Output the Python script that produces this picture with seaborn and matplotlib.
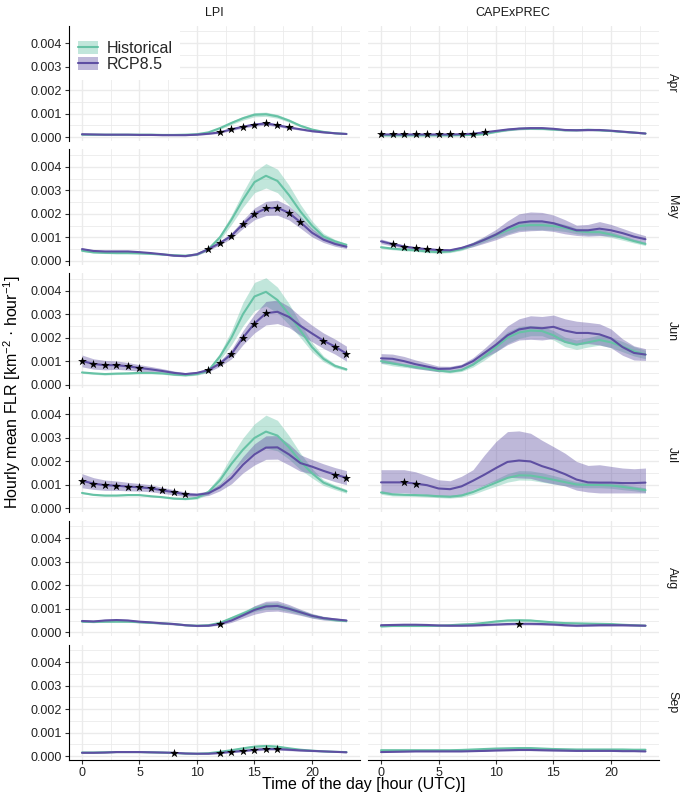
import numpy as np
import pandas as pd
import matplotlib.pyplot as plt
import seaborn as sns
from matplotlib.patches import Patch, Rectangle
from matplotlib.lines import Line2D

HOURS = list(range(24))
MONTHS = ['Apr', 'May', 'Jun', 'Jul', 'Aug', 'Sep']
INDICES = ['LPI', 'CAPExPREC']
SCENARIOS = ['Historical', 'RCP8.5']
COLORS = {'Historical': '#66C2A5', 'RCP8.5': '#5E4FA2'}

# all values in 1e-3 km^-2 hour^-1 (mean and half-width of the band)
# ---- LPI ----
LPI_APR_HIST = [0.10, 0.10, 0.10, 0.10, 0.10, 0.10, 0.10, 0.09, 0.09, 0.10, 0.12, 0.20, 0.38, 0.60, 0.80, 0.95, 0.97, 0.88, 0.70, 0.48, 0.32, 0.22, 0.16, 0.13]
LPI_APR_HIST_ERR = [0.02, 0.02, 0.02, 0.02, 0.02, 0.02, 0.02, 0.02, 0.02, 0.02, 0.02, 0.03, 0.05, 0.07, 0.08, 0.09, 0.09, 0.08, 0.07, 0.05, 0.04, 0.03, 0.02, 0.02]
LPI_APR_RCP = [0.12, 0.11, 0.10, 0.10, 0.10, 0.09, 0.09, 0.08, 0.08, 0.08, 0.10, 0.14, 0.20, 0.33, 0.44, 0.53, 0.58, 0.50, 0.41, 0.33, 0.25, 0.20, 0.16, 0.13]
LPI_APR_RCP_ERR = [0.02, 0.02, 0.02, 0.02, 0.02, 0.02, 0.02, 0.02, 0.02, 0.02, 0.02, 0.03, 0.04, 0.05, 0.06, 0.07, 0.07, 0.06, 0.05, 0.04, 0.03, 0.03, 0.02, 0.02]
LPI_APR_SIG = [12, 13, 14, 15, 16, 17, 18]

LPI_MAY_HIST = [0.43, 0.36, 0.34, 0.33, 0.33, 0.32, 0.30, 0.27, 0.24, 0.22, 0.27, 0.50, 1.00, 1.75, 2.60, 3.35, 3.62, 3.40, 2.80, 2.10, 1.50, 1.04, 0.83, 0.68]
LPI_MAY_HIST_ERR = [0.03, 0.03, 0.03, 0.03, 0.03, 0.03, 0.03, 0.03, 0.03, 0.03, 0.04, 0.06, 0.12, 0.20, 0.32, 0.45, 0.52, 0.50, 0.42, 0.30, 0.20, 0.13, 0.08, 0.06]
LPI_MAY_RCP = [0.50, 0.42, 0.40, 0.40, 0.40, 0.37, 0.33, 0.28, 0.22, 0.20, 0.28, 0.50, 0.76, 1.07, 1.56, 2.00, 2.23, 2.26, 2.04, 1.64, 1.20, 0.90, 0.72, 0.60]
LPI_MAY_RCP_ERR = [0.05, 0.04, 0.04, 0.04, 0.04, 0.04, 0.03, 0.03, 0.03, 0.03, 0.04, 0.06, 0.08, 0.12, 0.18, 0.25, 0.30, 0.32, 0.30, 0.25, 0.18, 0.12, 0.10, 0.08]
LPI_MAY_SIG = [11, 12, 13, 14, 15, 16, 17, 18, 19]

LPI_JUN_HIST = [0.52, 0.48, 0.45, 0.47, 0.48, 0.50, 0.50, 0.48, 0.43, 0.40, 0.45, 0.60, 1.20, 2.00, 3.00, 3.75, 3.95, 3.60, 3.00, 2.30, 1.60, 1.10, 0.80, 0.65]
LPI_JUN_HIST_ERR = [0.04, 0.04, 0.04, 0.04, 0.04, 0.04, 0.04, 0.04, 0.04, 0.04, 0.05, 0.08, 0.15, 0.30, 0.50, 0.60, 0.60, 0.55, 0.45, 0.30, 0.20, 0.12, 0.08, 0.06]
LPI_JUN_RCP = [1.01, 0.88, 0.83, 0.83, 0.78, 0.71, 0.65, 0.58, 0.50, 0.45, 0.50, 0.62, 0.90, 1.30, 2.00, 2.60, 3.04, 3.10, 2.88, 2.50, 2.18, 1.87, 1.62, 1.32]
LPI_JUN_RCP_ERR = [0.25, 0.22, 0.20, 0.18, 0.16, 0.14, 0.12, 0.10, 0.08, 0.06, 0.06, 0.08, 0.12, 0.20, 0.30, 0.40, 0.50, 0.50, 0.45, 0.40, 0.35, 0.33, 0.32, 0.32]
LPI_JUN_SIG = [0, 1, 2, 3, 4, 5, 11, 12, 13, 14, 15, 16, 21, 22, 23]

LPI_JUL_HIST = [0.66, 0.58, 0.55, 0.55, 0.57, 0.57, 0.52, 0.48, 0.42, 0.40, 0.45, 0.70, 1.20, 1.90, 2.50, 3.00, 3.27, 3.10, 2.60, 2.00, 1.50, 1.10, 0.90, 0.73]
LPI_JUL_HIST_ERR = [0.03, 0.03, 0.03, 0.03, 0.03, 0.03, 0.03, 0.03, 0.03, 0.03, 0.05, 0.10, 0.20, 0.35, 0.50, 0.60, 0.70, 0.65, 0.50, 0.35, 0.20, 0.12, 0.10, 0.08]
LPI_JUL_RCP = [1.18, 1.06, 0.99, 0.97, 0.93, 0.90, 0.86, 0.77, 0.69, 0.60, 0.58, 0.65, 0.90, 1.30, 1.86, 2.30, 2.59, 2.60, 2.30, 1.93, 1.78, 1.60, 1.44, 1.31]
LPI_JUL_RCP_ERR = [0.30, 0.25, 0.22, 0.20, 0.18, 0.16, 0.15, 0.13, 0.11, 0.10, 0.08, 0.10, 0.15, 0.25, 0.35, 0.45, 0.50, 0.50, 0.45, 0.35, 0.30, 0.30, 0.30, 0.30]
LPI_JUL_SIG = [0, 1, 2, 3, 4, 5, 6, 7, 8, 9, 22, 23]

LPI_AUG_HIST = [0.45, 0.44, 0.45, 0.45, 0.45, 0.43, 0.40, 0.38, 0.35, 0.30, 0.28, 0.30, 0.40, 0.60, 0.80, 1.00, 1.12, 1.12, 1.00, 0.85, 0.70, 0.60, 0.52, 0.48]
LPI_AUG_HIST_ERR = [0.03, 0.03, 0.03, 0.03, 0.03, 0.03, 0.03, 0.03, 0.03, 0.03, 0.03, 0.04, 0.06, 0.08, 0.10, 0.12, 0.14, 0.14, 0.12, 0.10, 0.08, 0.06, 0.05, 0.04]
LPI_AUG_RCP = [0.48, 0.46, 0.50, 0.52, 0.50, 0.45, 0.42, 0.38, 0.35, 0.30, 0.27, 0.28, 0.35, 0.50, 0.72, 0.95, 1.10, 1.12, 1.00, 0.85, 0.70, 0.60, 0.55, 0.50]
LPI_AUG_RCP_ERR = [0.05, 0.05, 0.06, 0.06, 0.05, 0.05, 0.04, 0.04, 0.04, 0.03, 0.03, 0.03, 0.05, 0.08, 0.12, 0.18, 0.22, 0.22, 0.18, 0.13, 0.10, 0.08, 0.06, 0.05]
LPI_AUG_SIG = [12]

LPI_SEP_HIST = [0.15, 0.15, 0.16, 0.17, 0.17, 0.17, 0.16, 0.15, 0.13, 0.11, 0.10, 0.12, 0.18, 0.25, 0.33, 0.40, 0.43, 0.40, 0.33, 0.27, 0.23, 0.20, 0.18, 0.17]
LPI_SEP_HIST_ERR = [0.02, 0.02, 0.02, 0.02, 0.02, 0.02, 0.02, 0.02, 0.02, 0.02, 0.02, 0.02, 0.03, 0.04, 0.05, 0.06, 0.06, 0.05, 0.04, 0.03, 0.03, 0.02, 0.02, 0.02]
LPI_SEP_RCP = [0.14, 0.14, 0.15, 0.17, 0.17, 0.17, 0.16, 0.15, 0.14, 0.11, 0.10, 0.10, 0.13, 0.18, 0.22, 0.27, 0.30, 0.30, 0.27, 0.24, 0.22, 0.20, 0.18, 0.16]
LPI_SEP_RCP_ERR = [0.02, 0.02, 0.02, 0.02, 0.02, 0.02, 0.02, 0.02, 0.02, 0.02, 0.02, 0.02, 0.02, 0.03, 0.04, 0.05, 0.05, 0.05, 0.04, 0.03, 0.03, 0.02, 0.02, 0.02]
LPI_SEP_SIG = [8, 12, 13, 14, 15, 16, 17]

# ---- CAPExPREC ----
CAPE_APR_HIST = [0.07, 0.07, 0.07, 0.07, 0.07, 0.07, 0.07, 0.08, 0.09, 0.13, 0.22, 0.30, 0.35, 0.36, 0.35, 0.32, 0.29, 0.29, 0.31, 0.29, 0.26, 0.22, 0.19, 0.15]
CAPE_APR_HIST_ERR = [0.02, 0.02, 0.02, 0.02, 0.02, 0.02, 0.02, 0.02, 0.02, 0.03, 0.03, 0.04, 0.04, 0.04, 0.04, 0.04, 0.03, 0.03, 0.03, 0.03, 0.03, 0.03, 0.02, 0.02]
CAPE_APR_RCP = [0.11, 0.11, 0.11, 0.11, 0.11, 0.11, 0.11, 0.12, 0.14, 0.20, 0.26, 0.32, 0.36, 0.38, 0.38, 0.35, 0.30, 0.29, 0.30, 0.30, 0.27, 0.23, 0.19, 0.15]
CAPE_APR_RCP_ERR = [0.02, 0.02, 0.02, 0.02, 0.02, 0.02, 0.02, 0.02, 0.02, 0.03, 0.04, 0.05, 0.05, 0.05, 0.05, 0.04, 0.04, 0.04, 0.04, 0.04, 0.03, 0.03, 0.03, 0.02]
CAPE_APR_SIG = [0, 1, 2, 3, 4, 5, 6, 7, 8, 9]

CAPE_MAY_HIST = [0.58, 0.52, 0.48, 0.45, 0.40, 0.37, 0.40, 0.50, 0.70, 0.90, 1.10, 1.30, 1.48, 1.52, 1.52, 1.48, 1.40, 1.27, 1.22, 1.22, 1.12, 0.98, 0.84, 0.72]
CAPE_MAY_HIST_ERR = [0.05, 0.05, 0.05, 0.05, 0.05, 0.05, 0.05, 0.06, 0.08, 0.10, 0.12, 0.15, 0.18, 0.20, 0.20, 0.18, 0.15, 0.12, 0.12, 0.12, 0.12, 0.10, 0.08, 0.07]
CAPE_MAY_RCP = [0.83, 0.71, 0.61, 0.54, 0.50, 0.46, 0.45, 0.55, 0.70, 0.90, 1.12, 1.40, 1.62, 1.68, 1.68, 1.60, 1.45, 1.30, 1.30, 1.37, 1.30, 1.18, 1.03, 0.92]
CAPE_MAY_RCP_ERR = [0.10, 0.08, 0.07, 0.06, 0.05, 0.05, 0.05, 0.06, 0.10, 0.15, 0.22, 0.30, 0.38, 0.40, 0.38, 0.35, 0.30, 0.22, 0.25, 0.30, 0.25, 0.20, 0.18, 0.15]
CAPE_MAY_SIG = [1, 2, 3, 4, 5]

CAPE_JUN_HIST = [1.00, 0.90, 0.82, 0.75, 0.68, 0.60, 0.55, 0.62, 0.85, 1.20, 1.60, 2.00, 2.22, 2.30, 2.28, 2.10, 1.82, 1.70, 1.80, 1.90, 1.80, 1.62, 1.42, 1.28]
CAPE_JUN_HIST_ERR = [0.10, 0.10, 0.08, 0.07, 0.06, 0.05, 0.05, 0.06, 0.10, 0.15, 0.20, 0.25, 0.25, 0.22, 0.20, 0.20, 0.20, 0.20, 0.20, 0.22, 0.22, 0.22, 0.20, 0.18]
CAPE_JUN_RCP = [1.12, 1.10, 1.00, 0.87, 0.77, 0.67, 0.68, 0.77, 1.00, 1.35, 1.70, 2.10, 2.35, 2.43, 2.40, 2.46, 2.30, 2.20, 2.20, 2.14, 1.97, 1.60, 1.35, 1.28]
CAPE_JUN_RCP_ERR = [0.20, 0.20, 0.20, 0.18, 0.15, 0.12, 0.10, 0.10, 0.15, 0.20, 0.30, 0.40, 0.45, 0.50, 0.50, 0.50, 0.50, 0.50, 0.45, 0.45, 0.40, 0.35, 0.30, 0.25]
CAPE_JUN_SIG = []

CAPE_JUL_HIST = [0.68, 0.60, 0.58, 0.57, 0.55, 0.52, 0.50, 0.55, 0.70, 0.90, 1.10, 1.30, 1.41, 1.40, 1.32, 1.22, 1.12, 1.02, 1.00, 1.00, 0.98, 0.92, 0.85, 0.78]
CAPE_JUL_HIST_ERR = [0.08, 0.07, 0.06, 0.06, 0.06, 0.06, 0.06, 0.07, 0.10, 0.12, 0.15, 0.18, 0.20, 0.20, 0.20, 0.18, 0.15, 0.12, 0.12, 0.12, 0.12, 0.12, 0.10, 0.10]
CAPE_JUL_RCP = [1.11, 1.11, 1.11, 1.06, 0.99, 0.85, 0.82, 0.94, 1.18, 1.44, 1.72, 1.98, 2.04, 2.00, 1.80, 1.65, 1.46, 1.23, 1.11, 1.10, 1.10, 1.08, 1.08, 1.10]
CAPE_JUL_RCP_ERR = [0.45, 0.45, 0.45, 0.43, 0.40, 0.33, 0.32, 0.35, 0.38, 0.45, 0.55, 0.65, 0.74, 0.72, 0.65, 0.60, 0.50, 0.45, 0.41, 0.44, 0.44, 0.42, 0.42, 0.44]
CAPE_JUL_RCP_ERR_UP = [0.54, 0.54, 0.54, 0.50, 0.40, 0.37, 0.36, 0.43, 0.47, 0.84, 1.13, 1.29, 1.26, 1.20, 1.10, 0.98, 0.89, 0.77, 0.72, 0.76, 0.69, 0.64, 0.61, 0.62]
CAPE_JUL_SIG = [2, 3]

CAPE_AUG_HIST = [0.25, 0.27, 0.27, 0.27, 0.27, 0.28, 0.30, 0.33, 0.35, 0.40, 0.46, 0.50, 0.51, 0.50, 0.46, 0.42, 0.39, 0.38, 0.37, 0.36, 0.35, 0.32, 0.30, 0.28]
CAPE_AUG_HIST_ERR = [0.03, 0.03, 0.03, 0.03, 0.03, 0.03, 0.03, 0.03, 0.03, 0.04, 0.05, 0.06, 0.06, 0.06, 0.05, 0.05, 0.04, 0.04, 0.04, 0.04, 0.04, 0.03, 0.03, 0.03]
CAPE_AUG_RCP = [0.30, 0.31, 0.32, 0.32, 0.31, 0.29, 0.28, 0.28, 0.29, 0.31, 0.33, 0.35, 0.36, 0.36, 0.35, 0.33, 0.30, 0.28, 0.29, 0.30, 0.30, 0.30, 0.29, 0.28]
CAPE_AUG_RCP_ERR = [0.04, 0.05, 0.05, 0.05, 0.04, 0.04, 0.03, 0.03, 0.03, 0.04, 0.04, 0.05, 0.05, 0.05, 0.05, 0.04, 0.04, 0.04, 0.04, 0.04, 0.04, 0.04, 0.03, 0.03]
CAPE_AUG_SIG = [12]

CAPE_SEP_HIST = [0.25, 0.25, 0.25, 0.25, 0.25, 0.25, 0.25, 0.26, 0.28, 0.30, 0.32, 0.33, 0.34, 0.34, 0.32, 0.30, 0.29, 0.28, 0.28, 0.28, 0.28, 0.28, 0.27, 0.27]
CAPE_SEP_HIST_ERR = [0.03, 0.03, 0.03, 0.03, 0.03, 0.03, 0.03, 0.03, 0.03, 0.03, 0.04, 0.04, 0.04, 0.04, 0.04, 0.04, 0.03, 0.03, 0.03, 0.03, 0.03, 0.03, 0.03, 0.03]
CAPE_SEP_RCP = [0.17, 0.18, 0.19, 0.20, 0.20, 0.20, 0.20, 0.20, 0.21, 0.22, 0.24, 0.25, 0.26, 0.26, 0.25, 0.24, 0.23, 0.22, 0.22, 0.22, 0.22, 0.21, 0.21, 0.20]
CAPE_SEP_RCP_ERR = [0.02, 0.02, 0.02, 0.02, 0.02, 0.02, 0.02, 0.02, 0.02, 0.02, 0.03, 0.03, 0.03, 0.03, 0.03, 0.03, 0.02, 0.02, 0.02, 0.02, 0.02, 0.02, 0.02, 0.02]
CAPE_SEP_SIG = []

# build a long table from the arrays above
g = globals()
rows = []
for idx, pre in zip(INDICES, ['LPI', 'CAPE']):
    for m in MONTHS:
        base = f'{pre}_{m.upper()}'
        sig = g[f'{base}_SIG']
        for scen, tag in zip(SCENARIOS, ['HIST', 'RCP']):
            mean = g[f'{base}_{tag}']
            lo = g[f'{base}_{tag}_ERR']
            hi = g.get(f'{base}_{tag}_ERR_UP', lo)
            for h in HOURS:
                rows.append({'index': idx, 'month': m, 'scenario': scen, 'hour': h,
                             'value': mean[h] * 1e-3,
                             'lo': (mean[h] - lo[h]) * 1e-3,
                             'hi': (mean[h] + hi[h]) * 1e-3,
                             'sig': scen == 'RCP8.5' and h in sig})
df = pd.DataFrame(rows)

sns.set_theme(style='white')
plt.rcParams['font.family'] = ['Liberation Sans', 'DejaVu Sans']
plt.rcParams['mathtext.default'] = 'regular'

fig, axes = plt.subplots(6, 2, figsize=(6.85, 8.01), dpi=100, sharex=True, sharey=True)
fig.subplots_adjust(left=0.1004, right=0.9616, top=0.968, bottom=0.0514,
                    wspace=0.028, hspace=0.075)

for r, m in enumerate(MONTHS):
    for c, idx in enumerate(INDICES):
        ax = axes[r, c]
        sub = df[(df['month'] == m) & (df['index'] == idx)]
        for scen in SCENARIOS:
            s = sub[sub['scenario'] == scen]
            ax.fill_between(s['hour'], s['lo'], s['hi'], color=COLORS[scen],
                            alpha=0.4, linewidth=0, zorder=1)
        sns.lineplot(data=sub, x='hour', y='value', hue='scenario', palette=COLORS,
                     hue_order=SCENARIOS, estimator=None, linewidth=1.5,
                     legend=False, ax=ax, zorder=2)
        stars = sub[sub['sig']]
        if len(stars):
            sns.scatterplot(data=stars, x='hour', y='value', marker='*', color='black',
                            s=45, linewidth=0, legend=False, ax=ax, zorder=3)

        ax.set_xlim(-1.15, 24.15)
        ax.set_ylim(-0.00016, 0.00474)
        ax.set_xticks([0, 5, 10, 15, 20])
        ax.set_xticks([2.5, 7.5, 12.5, 17.5, 22.5], minor=True)
        ax.set_yticks([0, 0.001, 0.002, 0.003, 0.004])
        ax.set_yticks([0.0005, 0.0015, 0.0025, 0.0035, 0.0045], minor=True)
        ax.set_yticklabels(['0.000', '0.001', '0.002', '0.003', '0.004'])
        ax.set_axisbelow(True)
        ax.grid(True, which='major', color='#EBEBEB', linewidth=1.0)
        ax.grid(True, which='minor', color='#EBEBEB', linewidth=0.6)
        ax.set_xlabel('')
        ax.set_ylabel('')
        for sp in ax.spines.values():
            sp.set_visible(False)
        ax.tick_params(which='minor', length=0)
        ax.tick_params(axis='both', which='major', labelsize=9, colors='#333333',
                       length=3, width=0.8, pad=2,
                       left=(c == 0), bottom=(r == 5))
        ax.tick_params(axis='both', labelcolor='#222222')
        if c == 0:
            ax.spines['left'].set_visible(True)
            ax.spines['left'].set_color('black')
            ax.spines['left'].set_linewidth(0.8)
        if r == 5:
            ax.spines['bottom'].set_visible(True)
            ax.spines['bottom'].set_color('black')
            ax.spines['bottom'].set_linewidth(0.8)
        if r == 0:
            ax.text(0.5, 1.109, idx, transform=ax.transAxes, ha='center', va='center',
                    fontsize=9, color='#1A1A1A')
        if c == 1:
            ax.text(1.025, 0.5, m, transform=ax.transAxes, ha='left', va='center',
                    rotation=-90, fontsize=9, color='#1A1A1A')

# legend in the top-left panel
ax0 = axes[0, 0]
ax0.add_patch(Rectangle((0.0, 0.528), 0.382, 0.472, transform=ax0.transAxes,
                        facecolor='white', edgecolor='none', zorder=0.9))
handles = [(Patch(facecolor=COLORS[s], alpha=0.4, edgecolor='none'),
            Line2D([], [], color=COLORS[s], linewidth=1.5)) for s in SCENARIOS]
ax0.legend(handles, SCENARIOS, loc='upper left', bbox_to_anchor=(0.0316, 0.866),
           frameon=False, borderpad=0, borderaxespad=0, fontsize=11.5,
           handlelength=1.25, handleheight=0.9, handletextpad=0.55, labelspacing=0.05)

fig.text(0.531, 1 - 785 / 801, 'Time of the day [hour (UTC)]', ha='center', va='center',
         fontsize=11.5, color='black')
fig.text(12 / 685, 1 - 392 / 801, r'Hourly mean FLR [km$^{-2}$ · hour$^{-1}$]',
         ha='center', va='center', rotation=90, fontsize=11.5, color='black')

fig.savefig('out.png', dpi=100)
